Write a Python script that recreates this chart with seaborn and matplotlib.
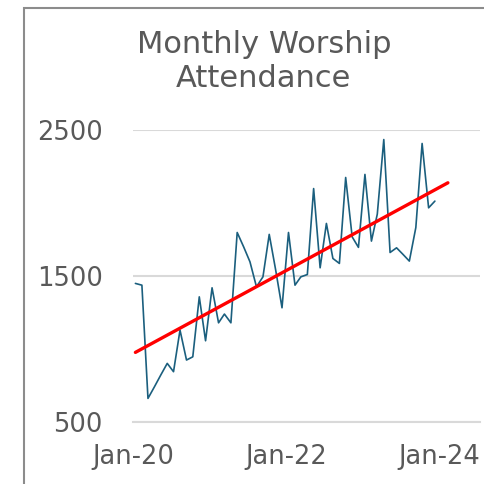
import numpy as np
import pandas as pd
import seaborn as sns
import matplotlib.pyplot as plt
import matplotlib.dates as mdates
from matplotlib.patches import Rectangle

# monthly attendance, Jan-20 .. Dec-23
attendance = [1450, 1438, 662, 742, 822, 902, 845, 1130, 925, 947, 1358, 1057,
              1420, 1180, 1240, 1180, 1799, 1700, 1598, 1427, 1495, 1786, 1540, 1283,
              1799, 1438, 1495, 1511, 2100, 1557, 1861, 1621, 1587, 2176, 1769, 1697,
              2197, 1740, 1925, 2436, 1662, 1694, 1650, 1603, 1833, 2409, 1968, 2014]
months = pd.date_range("2020-01-01", periods=len(attendance), freq="MS") + pd.Timedelta(days=11)
forecast_periods = 2

y_ticks = [500, 1500, 2500]

df = pd.DataFrame({"date": months, "attendance": attendance})

# linear trend, extended forward like a spreadsheet trendline
idx = np.arange(len(df))
slope, intercept = np.polyfit(idx, df["attendance"], 1)
trend_idx = np.array([0, len(df) - 1 + forecast_periods])
trend_dates = [months[0], months[-1] + pd.DateOffset(months=forecast_periods)]
trend_df = pd.DataFrame({"date": trend_dates, "trend": intercept + slope * trend_idx})

sns.set_theme(style="white")
plt.rcParams["font.family"] = ["DejaVu Sans"]
grey = "#595959"
light = "#d9d9d9"

fig = plt.figure(figsize=(4.84, 4.84), dpi=100)
ax = fig.add_axes([0.275, 0.128, 0.717, 0.603])

sns.lineplot(data=df, x="date", y="attendance", ax=ax, color="#1b5f7e", linewidth=1.2)
sns.lineplot(data=trend_df, x="date", y="trend", ax=ax, color="#ff0000", linewidth=2.4)

ax.set_ylim(500, 2500)
ax.set_xlim(pd.Timestamp("2020-01-01"), pd.Timestamp("2024-07-15"))
ax.set_yticks(y_ticks)
ax.yaxis.grid(True, color=light, linewidth=1.5)
ax.set_axisbelow(True)

ax.xaxis.set_major_locator(mdates.YearLocator(2))
ax.xaxis.set_minor_locator(mdates.YearLocator(1))
ax.xaxis.set_major_formatter(mdates.DateFormatter("%b-%y"))

for side in ["top", "right", "left"]:
    ax.spines[side].set_visible(False)
ax.spines["bottom"].set_color(light)
ax.spines["bottom"].set_linewidth(1.5)

ax.tick_params(axis="x", which="major", direction="inout", length=11, width=1.5,
               color=light, labelsize=18.5, labelcolor=grey, pad=10)
ax.tick_params(axis="x", which="minor", direction="in", length=5, width=1.5, color=light)
ax.tick_params(axis="y", length=0, labelsize=18.5, labelcolor=grey, pad=22)
ax.set_xlabel("")
ax.set_ylabel("")

fig.text(0.545, 1 - 30 / 484, "Monthly Worship\nAttendance", ha="center", va="top",
         fontsize=22, color=grey, linespacing=1.2)

fig.patches.append(Rectangle((24 / 484, -0.1), 2, 1.1 - 8 / 484, transform=fig.transFigure,
                             fill=False, edgecolor="#8c8c8c", linewidth=1.5))

fig.savefig("out.png", dpi=100)
plt.close(fig)
